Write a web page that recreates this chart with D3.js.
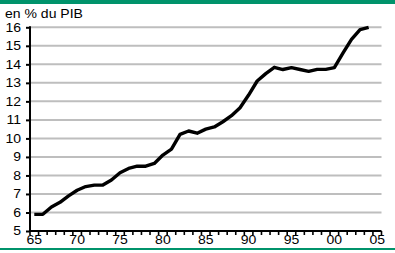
<!DOCTYPE html>
<html>
<head>
<meta charset="utf-8">
<script src="https://cdn.jsdelivr.net/npm/d3@7"></script>
<style>
  body { margin: 0; background: #fff; }
  text { font-family: "Liberation Sans", Arial, sans-serif; fill: #000; }
</style>
</head>
<body>
<div id="chart"></div>
<script>
// dépenses en % du PIB, 1965-2004
var years = d3.range(1965, 2006);
var values = [5.9, 5.9, 6.3, 6.55, 6.9, 7.2, 7.4, 7.48, 7.48, 7.75,
              8.15, 8.38, 8.5, 8.5, 8.65, 9.1, 9.42, 10.22, 10.4, 10.28,
              10.5, 10.62, 10.9, 11.23, 11.66, 12.34, 13.1, 13.5, 13.84, 13.72,
              13.82, 13.72, 13.62, 13.73, 13.73, 13.82, 14.6, 15.35, 15.88, 16.0];
var yTicks = [5, 6, 7, 8, 9, 10, 11, 12, 13, 14, 15, 16];
var xLabelYears = [1965, 1970, 1975, 1980, 1985, 1990, 1995, 2000, 2005];

var fullWidth = 395, fullHeight = 253;
var green = '#00936b';
var sx = 1.17; // the reference glyphs are a bit wider than Arial

var svg = d3.select('#chart').append('svg')
  .attr('width', fullWidth)
  .attr('height', fullHeight);

// green bands top and bottom
svg.append('rect').attr('x', 0).attr('y', 0).attr('width', fullWidth).attr('height', 4).attr('fill', green);
svg.append('rect').attr('x', 0).attr('y', 248).attr('width', fullWidth).attr('height', 2).attr('fill', green);

var x = d3.scaleBand().domain(years).range([30, 381.5]);
var y = d3.scaleLinear().domain([5, 16]).range([231, 27.3]);

// grid lines
svg.append('g').selectAll('line')
  .data(yTicks.filter(function(d) { return d > 5; }))
  .enter().append('line')
    .attr('x1', 30).attr('x2', 381.5)
    .attr('y1', function(d) { return y(d); })
    .attr('y2', function(d) { return y(d); })
    .attr('stroke', '#bebebe')
    .attr('stroke-width', 2);

// y axis
var yAxis = d3.axisLeft(y).tickValues(yTicks).tickSize(4).tickFormat(function() { return ''; });
var yAxisEle = svg.append('g').attr('transform', 'translate(30,0)').call(yAxis);
yAxisEle.select('.domain').remove();
yAxisEle.selectAll('.tick line').attr('stroke', '#000').attr('stroke-width', 2);
svg.append('line').attr('x1', 30).attr('x2', 30).attr('y1', 26.3).attr('y2', 232)
  .attr('stroke', '#000').attr('stroke-width', 2);

svg.append('g').selectAll('g')
  .data(yTicks)
  .enter().append('g')
    .attr('transform', function(d) { return 'translate(21,' + y(d) + ') scale(' + sx + ',1)'; })
  .append('text')
    .attr('text-anchor', 'end')
    .attr('dy', '0.36em')
    .style('font-size', '12px')
    .text(function(d) { return d; });

// x axis: ticks between the years
var xAxis = svg.append('g');
xAxis.selectAll('line')
  .data(years.concat([2006]))
  .enter().append('line')
    .attr('x1', function(d, i) { return 30 + i * x.step(); })
    .attr('x2', function(d, i) { return 30 + i * x.step(); })
    .attr('y1', 231).attr('y2', 235)
    .attr('stroke', '#000').attr('stroke-width', 1.6);
xAxis.append('line').attr('x1', 29).attr('x2', 381.5).attr('y1', 231).attr('y2', 231)
  .attr('stroke', '#000').attr('stroke-width', 2);

xAxis.selectAll('g.lab')
  .data(xLabelYears)
  .enter().append('g')
    .attr('class', 'lab')
    .attr('transform', function(d) { return 'translate(' + (x(d) + x.bandwidth() / 2) + ',243.5) scale(' + sx + ',1)'; })
  .append('text')
    .attr('text-anchor', 'middle')
    .style('font-size', '12px')
    .text(function(d) { return String(d).slice(2); });

// line
var line = d3.line()
  .x(function(d, i) { return x(years[i]) + x.bandwidth() / 2; })
  .y(function(d) { return y(d); });

svg.append('path')
  .datum(values)
  .attr('d', line)
  .attr('fill', 'none')
  .attr('stroke', '#000')
  .attr('stroke-width', 3.4)
  .attr('stroke-linejoin', 'round');

// title
svg.append('g').attr('transform', 'translate(5,18.3) scale(' + sx + ',1)')
  .append('text')
    .style('font-size', '12px')
    .text('en % du PIB');
</script>
</body>
</html>
